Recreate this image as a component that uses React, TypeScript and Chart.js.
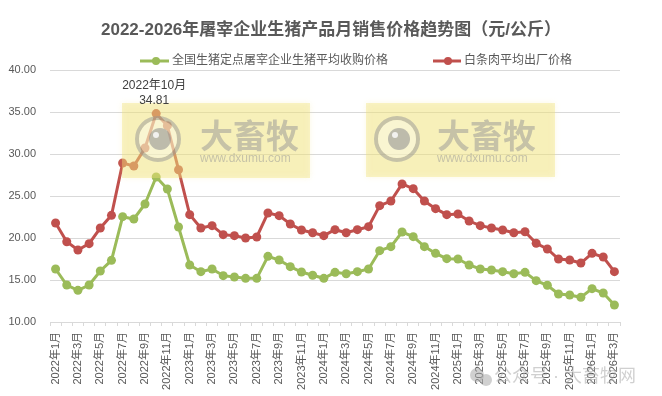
import React, { useEffect, useRef } from "react";
import { Chart, registerables } from "chart.js";

Chart.register(...registerables);

const categories = [
  "2022年1月", "2022年2月", "2022年3月", "2022年4月", "2022年5月", "2022年6月",
  "2022年7月", "2022年8月", "2022年9月", "2022年10月", "2022年11月", "2022年12月",
  "2023年1月", "2023年2月", "2023年3月", "2023年4月", "2023年5月", "2023年6月",
  "2023年7月", "2023年8月", "2023年9月", "2023年10月", "2023年11月", "2023年12月",
  "2024年1月", "2024年2月", "2024年3月", "2024年4月", "2024年5月", "2024年6月",
  "2024年7月", "2024年8月", "2024年9月", "2024年10月", "2024年11月", "2024年12月",
  "2025年1月", "2025年2月", "2025年3月", "2025年4月", "2025年5月", "2025年6月",
  "2025年7月", "2025年8月", "2025年9月", "2025年10月", "2025年11月", "2025年12月",
  "2026年1月", "2026年2月", "2026年3月",
];

const purchasePrice = [
  16.31, 14.40, 13.77, 14.40, 16.07, 17.34, 22.54, 22.26, 24.05, 27.26, 25.83, 21.31,
  16.79, 15.99, 16.31, 15.52, 15.36, 15.20, 15.20, 17.82, 17.38, 16.59, 15.95, 15.56,
  15.20, 15.91, 15.75, 15.99, 16.31, 18.49, 18.97, 20.71, 20.16, 18.97, 18.17, 17.54,
  17.50, 16.79, 16.31, 16.19, 15.99, 15.75, 15.91, 14.92, 14.37, 13.33, 13.21, 12.94,
  13.97, 13.45, 12.02,
];

const wholesalePrice = [
  21.79, 19.56, 18.57, 19.33, 21.19, 22.70, 28.93, 28.57, 30.71, 34.81, 33.37, 28.13,
  22.78, 21.19, 21.47, 20.40, 20.28, 20.00, 20.12, 22.98, 22.66, 21.67, 20.95, 20.63,
  20.28, 20.99, 20.63, 20.99, 21.35, 23.85, 24.40, 26.43, 25.87, 24.40, 23.49, 22.78,
  22.86, 22.02, 21.47, 21.19, 20.95, 20.63, 20.75, 19.37, 18.69, 17.50, 17.38, 17.02,
  18.17, 17.74, 15.99,
];

const seriesNames = ["全国生猪定点屠宰企业生猪平均收购价格", "白条肉平均出厂价格"];
const seriesColors = ["#9BBB59", "#C0504D"];
const chartTitle = "2022-2026年屠宰企业生猪产品月销售价格趋势图（元/公斤）";
const peakIndex = 9;
const yMin = 10;
const yMax = 40;
const yStep = 5;

const FONT = '"Liberation Sans", "Noto Sans CJK SC", sans-serif';
const TEXT = "#595959";

function drawWatermark(ctx: CanvasRenderingContext2D, x: number, y: number, w: number, h: number, cx: number, tx: number) {
  ctx.save();
  ctx.fillStyle = "rgba(240, 225, 120, 0.4)";
  ctx.shadowColor = "rgba(240, 225, 120, 0.5)";
  ctx.shadowBlur = 6;
  ctx.fillRect(x, y, w, h);
  ctx.shadowBlur = 0;
  const cy = y + 36;
  ctx.strokeStyle = "rgba(150, 150, 150, 0.5)";
  ctx.lineWidth = 4;
  ctx.beginPath();
  ctx.arc(cx, cy, 21, 0, Math.PI * 2);
  ctx.stroke();
  ctx.fillStyle = "rgba(255, 255, 255, 0.35)";
  ctx.beginPath();
  ctx.arc(cx, cy, 19, 0, Math.PI * 2);
  ctx.fill();
  ctx.fillStyle = "rgba(140, 140, 140, 0.55)";
  ctx.beginPath();
  ctx.arc(cx + 2, cy, 11, 0, Math.PI * 2);
  ctx.fill();
  ctx.fillStyle = "rgba(255, 255, 255, 0.8)";
  ctx.beginPath();
  ctx.arc(cx - 2, cy - 4, 3, 0, Math.PI * 2);
  ctx.fill();
  ctx.fillStyle = "rgba(150, 150, 150, 0.5)";
  ctx.font = `bold 33px ${FONT}`;
  ctx.textBaseline = "middle";
  ctx.textAlign = "left";
  ctx.fillText("大畜牧", tx, cy);
  ctx.font = `12px ${FONT}`;
  ctx.fillText("www.dxumu.com", tx, y + 56);
  ctx.restore();
}

const decorPlugin = {
  id: "decor",
  afterDatasetsDraw(chart: any) {
    const ctx = chart.ctx as CanvasRenderingContext2D;
    drawWatermark(ctx, 122, 103, 188, 75, 158, 200);
    drawWatermark(ctx, 366, 103, 189, 74, 397, 437);
  },
  afterDraw(chart: any) {
    const ctx = chart.ctx as CanvasRenderingContext2D;
    ctx.save();
    // title
    ctx.fillStyle = TEXT;
    ctx.font = `bold 17px ${FONT}`;
    ctx.textAlign = "center";
    ctx.textBaseline = "middle";
    ctx.fillText(chartTitle, 331, 30);

    // legend
    const items = [
      { x0: 140, x1: 169, dot: 156, tx: 172 },
      { x0: 433, x1: 461, dot: 448, tx: 464 },
    ];
    items.forEach((it, i) => {
      ctx.strokeStyle = seriesColors[i];
      ctx.fillStyle = seriesColors[i];
      ctx.lineWidth = 3;
      ctx.beginPath();
      ctx.moveTo(it.x0, 61);
      ctx.lineTo(it.x1, 61);
      ctx.stroke();
      ctx.beginPath();
      ctx.arc(it.dot, 61, 4, 0, Math.PI * 2);
      ctx.fill();
      ctx.fillStyle = TEXT;
      ctx.font = `12px ${FONT}`;
      ctx.textAlign = "left";
      ctx.fillText(seriesNames[i], it.tx, 61);
    });

    // peak annotation
    const pt = chart.getDatasetMeta(1).data[peakIndex];
    if (pt) {
      ctx.fillStyle = "#404040";
      ctx.font = `12px ${FONT}`;
      ctx.textAlign = "center";
      ctx.fillText(wholesalePrice[peakIndex].toFixed(2), pt.x - 2, pt.y - 13);
      ctx.fillText(categories[peakIndex], pt.x - 2, pt.y - 28);
    }

    // bottom watermark
    ctx.fillStyle = "rgba(170, 170, 170, 0.55)";
    ctx.beginPath();
    ctx.arc(477, 375, 7, 0, Math.PI * 2);
    ctx.fill();
    ctx.beginPath();
    ctx.arc(486, 380, 6, 0, Math.PI * 2);
    ctx.fill();
    ctx.font = `18px ${FONT}`;
    ctx.textAlign = "left";
    ctx.fillText("公众号 · 大畜牧网", 494, 377);
    ctx.restore();
  },
};

export default function App() {
  const canvasRef = useRef<HTMLCanvasElement | null>(null);

  useEffect(() => {
    if (!canvasRef.current) return;
    const chart = new Chart(canvasRef.current, {
      type: "line",
      data: {
        labels: categories,
        datasets: [
          {
            label: seriesNames[0],
            data: purchasePrice,
            borderColor: seriesColors[0],
            backgroundColor: seriesColors[0],
            pointBackgroundColor: seriesColors[0],
            borderWidth: 3,
            pointRadius: 4.5,
            pointBorderWidth: 0,
            tension: 0,
          },
          {
            label: seriesNames[1],
            data: wholesalePrice,
            borderColor: seriesColors[1],
            backgroundColor: seriesColors[1],
            pointBackgroundColor: seriesColors[1],
            borderWidth: 3,
            pointRadius: 4.5,
            pointBorderWidth: 0,
            tension: 0,
          },
        ],
      },
      options: {
        responsive: false,
        animation: false,
        layout: { padding: { top: 70, left: 0, right: 42, bottom: 0 } },
        plugins: {
          legend: { display: false },
          title: { display: false },
          tooltip: { enabled: false },
        },
        scales: {
          y: {
            min: yMin,
            max: yMax,
            afterFit: (s: any) => {
              s.width = 50;
            },
            ticks: {
              stepSize: yStep,
              padding: 14,
              color: TEXT,
              font: { family: FONT, size: 11 },
              callback: (v: any) => Number(v).toFixed(2),
            },
            grid: { color: "#D9D9D9", drawTicks: false, lineWidth: 1 },
            border: { display: false },
          },
          x: {
            offset: true,
            afterFit: (s: any) => {
              s.height = 74;
            },
            ticks: {
              autoSkip: false,
              maxRotation: 90,
              minRotation: 90,
              padding: 6,
              color: TEXT,
              font: { family: FONT, size: 11 },
              callback: function (this: any, v: any, i: number) {
                return i % 2 === 0 ? categories[i] : "";
              },
            },
            grid: {
              offset: true,
              drawOnChartArea: false,
              drawTicks: true,
              tickLength: 4,
              color: "#D9D9D9",
            },
            border: { display: true, color: "#D9D9D9" },
          },
        },
      },
      plugins: [decorPlugin],
    });
    return () => chart.destroy();
  }, []);

  return (
    <div style={{ position: "fixed", left: 0, top: 0, width: 662, height: 396, background: "#fff" }}>
      <canvas ref={canvasRef} width={662} height={396} />
    </div>
  );
}
